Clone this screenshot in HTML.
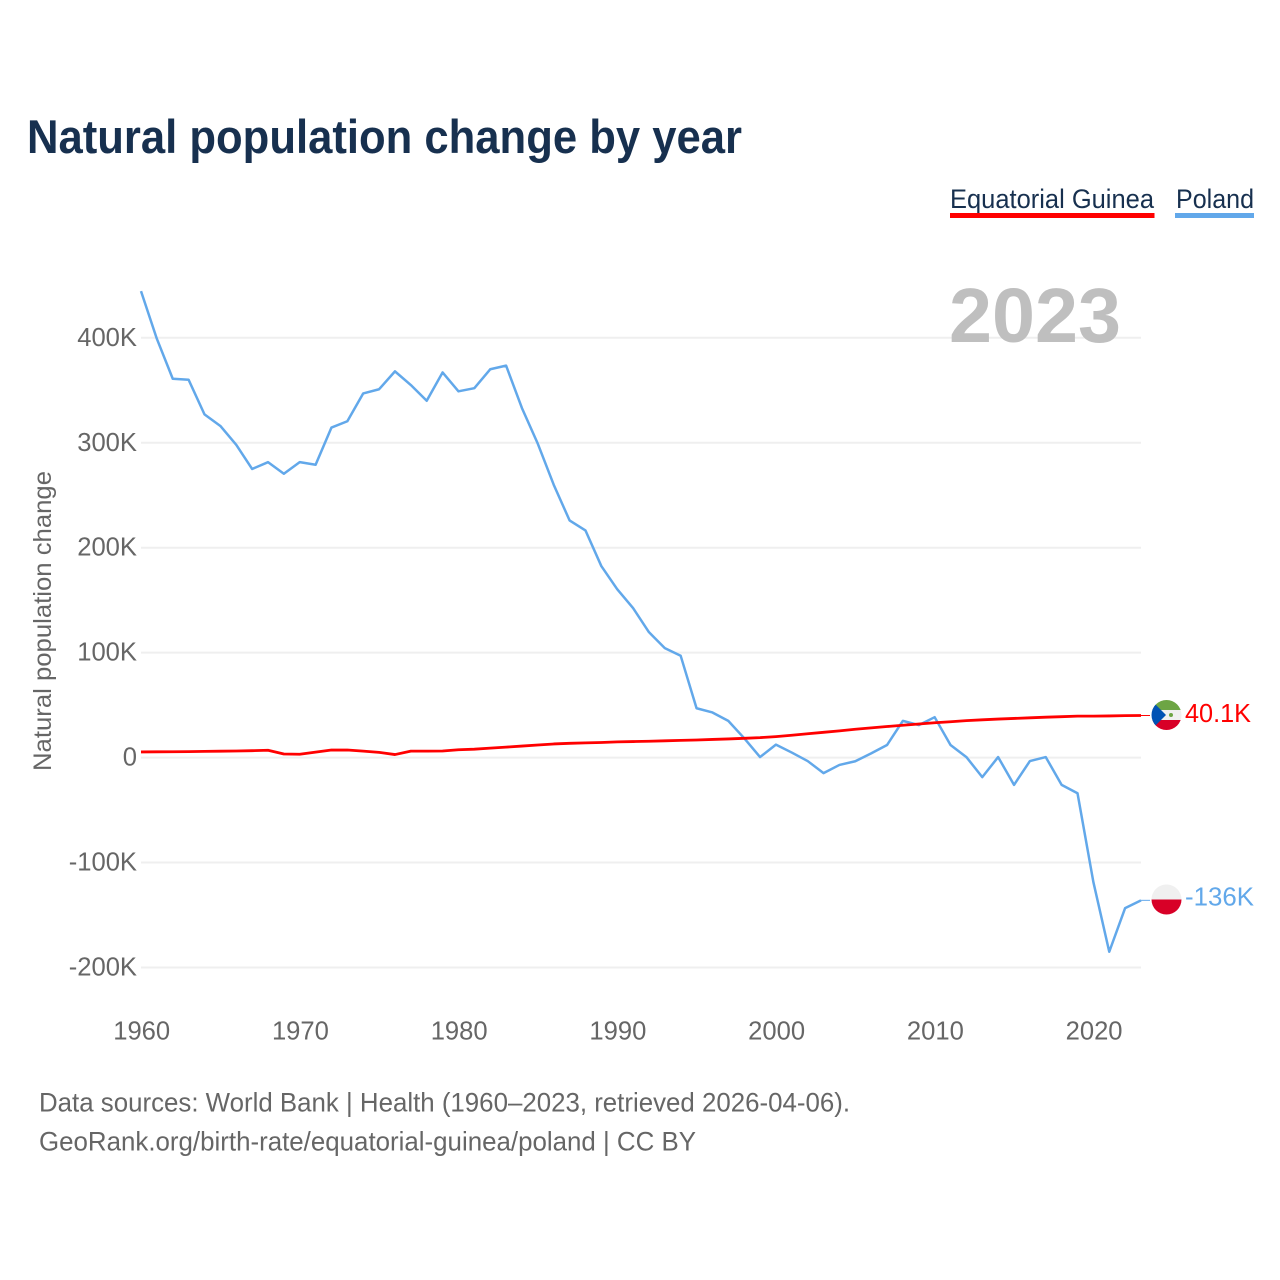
<!DOCTYPE html>
<html lang="en">
<head>
<meta charset="utf-8">
<title>Natural population change by year</title>
<style>
html,body{margin:0;padding:0;background:#fff;width:1280px;height:1280px;overflow:hidden}
svg{display:block;font-family:"Liberation Sans",sans-serif}
</style>
</head>
<body>
<svg id="chart" width="1280" height="1280" viewBox="0 0 1280 1280" xmlns="http://www.w3.org/2000/svg">
  <defs>
    <clipPath id="clip-gq"><circle cx="1166.5" cy="715" r="15"/></clipPath>
    <clipPath id="clip-pl"><circle cx="1166.5" cy="899.5" r="15"/></clipPath>
  </defs>
  <rect width="1280" height="1280" fill="#fff"/>
  <text x="27" y="153" font-size="47" font-weight="700" fill="#17304f" textLength="715" lengthAdjust="spacingAndGlyphs">Natural population change by year</text>

  <g>
    <text x="950" y="208" font-size="26.5" fill="#17304f" textLength="204" lengthAdjust="spacingAndGlyphs">Equatorial Guinea</text>
    <rect x="950" y="213" width="204.5" height="5" fill="#ff0000"/>
  </g>
  <g>
    <text x="1176" y="208" font-size="26.5" fill="#17304f" textLength="78" lengthAdjust="spacingAndGlyphs">Poland</text>
    <rect x="1175" y="213" width="79" height="5" fill="#62a8ea"/>
  </g>

  <text transform="translate(51 771) rotate(-90)" font-size="25" fill="#666" textLength="300" lengthAdjust="spacingAndGlyphs">Natural population change</text>

  <g id="grid"></g>
  <text x="1121" y="342" text-anchor="end" font-size="77" font-weight="700" fill="#bfbfbf" textLength="172" lengthAdjust="spacingAndGlyphs">2023</text>
  <g id="yticks"></g>
  <g id="xticks"></g>
  <g id="series"></g>

  <g clip-path="url(#clip-gq)">
    <rect x="1151" y="700" width="31" height="10" fill="#6da544"/>
    <rect x="1151" y="710" width="31" height="10" fill="#f0f0f0"/>
    <rect x="1151" y="720" width="31" height="10" fill="#d80027"/>
    <polygon points="1151,700 1166,715 1151,730" fill="#0052b4"/>
    <circle cx="1171" cy="715" r="2" fill="#6da544"/>
  </g>
  <g clip-path="url(#clip-pl)">
    <rect x="1151" y="884" width="31" height="15.5" fill="#f0f0f0"/>
    <rect x="1151" y="899.5" width="31" height="15.5" fill="#d80027"/>
  </g>
  <text x="1185" y="722" font-size="26" fill="#ff0000" textLength="66" lengthAdjust="spacingAndGlyphs">40.1K</text>
  <text x="1185" y="905.5" font-size="26" fill="#62a8ea" textLength="69" lengthAdjust="spacingAndGlyphs">-136K</text>

  <text x="39" y="1111.5" font-size="26.5" fill="#666" textLength="811" lengthAdjust="spacingAndGlyphs">Data sources: World Bank | Health (1960–2023, retrieved 2026-04-06).</text>
  <text x="39" y="1150.5" font-size="26.5" fill="#666" textLength="657" lengthAdjust="spacingAndGlyphs">GeoRank.org/birth-rate/equatorial-guinea/poland | CC BY</text>
</svg>
<script>
const startYear = 1960;
const polandValues = [444.5,399,361,360,327,316,298,275,281.5,270.5,281.5,279,314.5,320.5,347,351,368,355,340,367,349,352,370,373.5,333,299,260,226,216.5,182.5,160.5,142.5,119.5,104.3,97,47,43,35,18.5,0.5,12.4,4.8,-3.3,-14.8,-7,-3.5,4,12,35,31,38.5,12,0.5,-18.6,0.5,-26,-3.3,0.5,-26,-34,-118.6,-185,-143.4,-136];
const guineaValues = [5.4,5.5,5.6,5.7,5.9,6.1,6.3,6.6,7,3.4,3.2,5.2,7.2,7.2,6.2,5,2.9,6.2,6.2,6.3,7.5,8,9,10,11,12,13,13.6,14,14.4,15,15.3,15.6,16,16.4,16.8,17.3,17.8,18.4,19,20,21.3,22.7,24.1,25.5,27,28.3,29.6,30.8,32,33.2,34.2,35.2,36,36.7,37.3,37.9,38.5,39,39.5,39.5,39.7,40,40.1];
const yTickValues = [400,300,200,100,0,-100,-200];
const yTickLabels = ["400K","300K","200K","100K","0","-100K","-200K"];
const xTickValues = [1960,1970,1980,1990,2000,2010,2020];

const NS = "http://www.w3.org/2000/svg";
function xScale(year){ return 141 + (year - 1960) * (1000 / 63); }
function yScale(v){ return 757.6 - v * 1.0495; }

function make(tag, parent, attrs){
  const el = document.createElementNS(NS, tag);
  for (const k in attrs) el.setAttribute(k, attrs[k]);
  document.getElementById(parent).appendChild(el);
  return el;
}

yTickValues.forEach(function(v, i){
  const line = make("line", "grid", {x1:141, x2:1141, y1:yScale(v), y2:yScale(v), stroke:"#efefef", "stroke-width":2});
  
  
  const t = make("text", "yticks", {x:137, y:yScale(v)+8, "text-anchor":"end", "font-size":25.6, fill:"#666"});
  t.textContent = yTickLabels[i];
  
  
});

xTickValues.forEach(function(y){
  const t = make("text", "xticks", {x:xScale(y)+0.7, y:1039.5, "text-anchor":"middle", "font-size":25.6, fill:"#666"});
  t.textContent = String(y);
  
  
});

function pathFor(values){
  return values.map(function(v, i){
    return (i ? "L" : "M") + xScale(startYear + i).toFixed(2) + " " + yScale(v).toFixed(2);
  }).join(" ");
}

const polandLine = make("path", "series", {d:pathFor(polandValues), fill:"none", stroke:"#62a8ea", "stroke-width":2.5, "stroke-linejoin":"round"});



const guineaLine = make("path", "series", {d:pathFor(guineaValues), fill:"none", stroke:"#ff0000", "stroke-width":2.8, "stroke-linejoin":"round"});



const polandLast = polandValues[polandValues.length - 1];
const guineaLast = guineaValues[guineaValues.length - 1];

const polandLeader = make("line", "series", {x1:1141, x2:1150, y1:yScale(polandLast), y2:yScale(polandLast), stroke:"#62a8ea", "stroke-width":1});



const guineaLeader = make("line", "series", {x1:1141, x2:1150, y1:yScale(guineaLast), y2:yScale(guineaLast), stroke:"#ff0000", "stroke-width":1});


</script>
</body>
</html>
